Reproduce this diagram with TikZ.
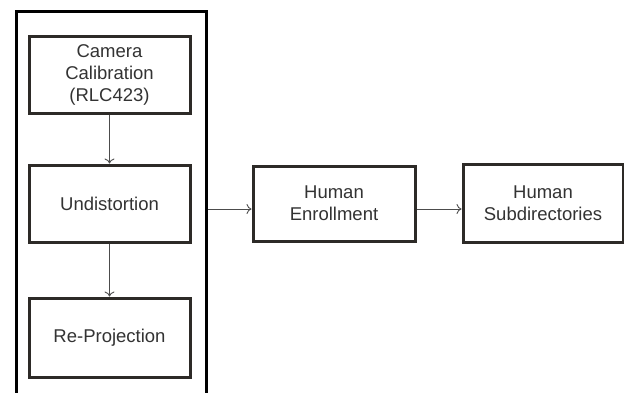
\documentclass[tikz,border=0pt]{standalone}
\usepackage{fontspec}
\setmainfont{Liberation Sans}
\usetikzlibrary{positioning,arrows.meta}

\begin{document}
\begin{tikzpicture}[x=1pt,y=-1pt,
		stage/.style={align=center, rectangle, draw=black!90!olive, line width=3pt, fill=white,
			text=black!80, font=\fontsize{18.5}{22}\selectfont, inner sep=0pt},
		frame/.style={rectangle, draw=black, line width=3pt, minimum width=190pt, minimum height=395pt},
		flow/.style={draw=black!70, line width=0.9pt, -{To[length=5pt,width=10pt]}}]
	\useasboundingbox (0,0) rectangle (624,392);
	% Outer frame
	\node[frame] (pipeline) at (111,208.5) {};
	% Calibration chain
	\node[stage, minimum width=161pt, minimum height=77pt] (calib) at (109.5,74.5) {Camera\\ Calibration\\ (RLC423)};
	\node[stage, minimum width=161pt, minimum height=77pt] (undist) at (109.5,203.5) {Undistortion};
	\node[stage, minimum width=161pt, minimum height=79pt] (reproj) at (109.5,337.5) {Re-Projection};
	% Human stages
	\node[stage, minimum width=162pt, minimum height=75pt] (enroll) at (334,203.5) {Human\\ Enrollment};
	\node[stage, minimum width=160pt, minimum height=78pt] (subdir) at (543,203) {Human\\ Subdirectories};
	% Connectors
	\coordinate (out) at (pipeline.east |- 0,209);
	\draw[flow] (calib) -- (undist);
	\draw[flow] (undist) -- (reproj);
	\draw[flow] (out) -- (enroll.west |- out);
	\draw[flow] (enroll.east |- out) -- (subdir.west |- out);
\end{tikzpicture}
\end{document}
